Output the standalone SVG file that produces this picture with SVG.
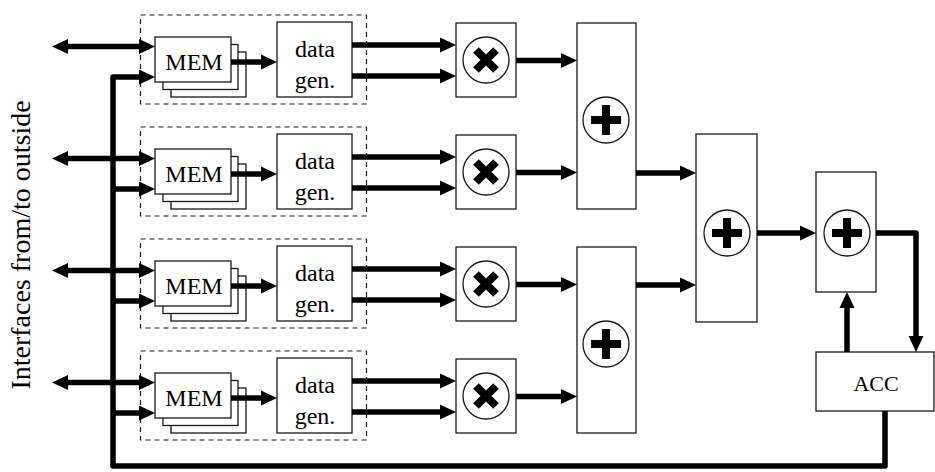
<svg xmlns="http://www.w3.org/2000/svg" width="935" height="472" viewBox="0 0 935 472">
<style>
.box{fill:#fff;stroke:#1a1a1a;stroke-width:1.3}
.dash{fill:none;stroke:#1a1a1a;stroke-width:1.2;stroke-dasharray:5,4}
.circ{fill:#fff;stroke:#1a1a1a;stroke-width:1.3}
.sym{stroke:#000;stroke-width:8;fill:none}
.wire{fill:none;stroke:#000;stroke-width:5.5;stroke-linejoin:round}
.arr{marker-end:url(#ah)}
.bi{marker-start:url(#ah);marker-end:url(#ah)}
.lbl{font-family:"Liberation Serif",Tinos,"Times New Roman",Times,"Nimbus Roman","Nimbus Roman No9 L",FreeSerif,"DejaVu Serif","Noto Serif",serif;fill:#000;text-anchor:middle}
.t{font-size:24px}
</style>
<defs>
<marker id="ah" markerUnits="userSpaceOnUse" markerWidth="16" markerHeight="16" refX="0" refY="7.5" orient="auto-start-reverse" viewBox="0 0 16 15">
<path d="M0,0 L16,7.5 L0,15 z" fill="#000"/>
</marker>
<g id="memstack">
<rect class="box" x="171" y="52" width="75" height="45"/>
<rect class="box" x="163" y="44.5" width="75" height="45"/>
<rect class="box" x="155" y="37" width="76" height="45"/>
<text class="lbl t" x="194" y="70">MEM</text>
</g>
<g id="gen">
<rect class="box" x="277" y="22" width="75" height="75"/>
<text class="lbl t" x="315" y="57">data</text>
<text class="lbl t" x="315" y="88">gen.</text>
</g>
<g id="mul">
<rect class="box" x="456" y="23" width="60" height="74"/>
<circle class="circ" cx="486" cy="60" r="23"/>
<path class="sym" d="M476,50 L496,70 M496,50 L476,70"/>
</g>
<g id="plus">
<circle class="circ" cx="0" cy="0" r="23"/>
<path class="sym" d="M0,-15 V15 M-15,0 H15"/>
</g>
</defs>

<text class="lbl" transform="translate(29.5,245) rotate(-90)" font-size="28">Interfaces from/to outside</text>

<g id="row1">
<rect class="dash" x="140.5" y="15" width="226" height="89"/>
<g id="mem1"><use href="#memstack"/></g>
<g id="gen1"><use href="#gen"/></g>
<g id="mul1"><use href="#mul"/></g>
</g>
<g id="row2" transform="translate(0,112)">
<rect class="dash" x="140.5" y="15" width="226" height="89"/>
<g id="mem2"><use href="#memstack"/></g>
<g id="gen2"><use href="#gen"/></g>
<g id="mul2"><use href="#mul"/></g>
</g>
<g id="row3" transform="translate(0,224)">
<rect class="dash" x="140.5" y="15" width="226" height="89"/>
<g id="mem3"><use href="#memstack"/></g>
<g id="gen3"><use href="#gen"/></g>
<g id="mul3"><use href="#mul"/></g>
</g>
<g id="row4" transform="translate(0,336)">
<rect class="dash" x="140.5" y="15" width="226" height="89"/>
<g id="mem4"><use href="#memstack"/></g>
<g id="gen4"><use href="#gen"/></g>
<g id="mul4"><use href="#mul"/></g>
</g>

<g id="add1a">
<rect class="box" x="577" y="23" width="59" height="186"/>
<use href="#plus" x="606" y="120"/>
</g>
<g id="add1b">
<rect class="box" x="577" y="247" width="59" height="186"/>
<use href="#plus" x="606" y="344"/>
</g>
<g id="add2">
<rect class="box" x="696" y="134" width="61" height="188"/>
<use href="#plus" x="727" y="233"/>
</g>
<g id="add3">
<rect class="box" x="816" y="172" width="60" height="120"/>
<use href="#plus" x="847" y="233"/>
</g>
<g id="acc">
<rect class="box" x="816" y="352" width="118" height="59"/>
<text class="lbl" x="876" y="390.5" font-size="22">ACC</text>
</g>

<g id="connectors">
<path class="wire bi" d="M68,46.5 H139"/>
<path class="wire bi" d="M68,158.5 H139"/>
<path class="wire bi" d="M68,270.5 H139"/>
<path class="wire bi" d="M68,382.5 H139"/>
<path class="wire arr" d="M885,411 V466 H113 V77 H139"/>
<path class="wire arr" d="M113,189 H139"/>
<path class="wire arr" d="M113,301 H139"/>
<path class="wire arr" d="M113,413 H139"/>
<path class="wire arr" d="M231,62 H261"/>
<path class="wire arr" d="M231,174 H261"/>
<path class="wire arr" d="M231,286 H261"/>
<path class="wire arr" d="M231,398 H261"/>
<path class="wire arr" d="M352,45 H440"/>
<path class="wire arr" d="M352,76 H440"/>
<path class="wire arr" d="M352,157 H440"/>
<path class="wire arr" d="M352,188 H440"/>
<path class="wire arr" d="M352,269 H440"/>
<path class="wire arr" d="M352,300 H440"/>
<path class="wire arr" d="M352,381 H440"/>
<path class="wire arr" d="M352,412 H440"/>
<path class="wire arr" d="M516,60.5 H561"/>
<path class="wire arr" d="M516,172.5 H561"/>
<path class="wire arr" d="M516,284.5 H561"/>
<path class="wire arr" d="M516,396.5 H561"/>
<path class="wire arr" d="M636,173 H680"/>
<path class="wire arr" d="M636,285 H680"/>
<path class="wire arr" d="M757,233 H800"/>
<path class="wire arr" d="M876,233 H916 V336"/>
<path class="wire arr" d="M847,352 V308"/>
</g>
</svg>
